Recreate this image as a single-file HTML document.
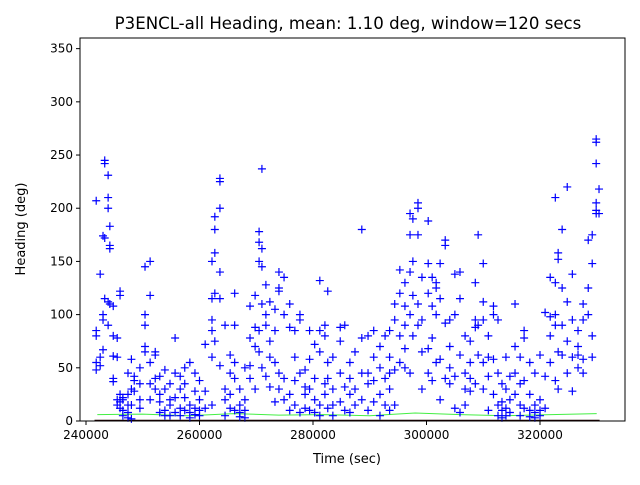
<!DOCTYPE html>
<html><head><meta charset="utf-8"><style>
html,body{margin:0;padding:0;background:#fff;}
svg text{font-family:"DejaVu Sans","Liberation Sans",sans-serif;}
</style></head><body>
<svg id="chart" width="640" height="480" viewBox="0 0 640 480" xmlns="http://www.w3.org/2000/svg">
<rect x="0" y="0" width="640" height="480" fill="#fff"/>
<text x="348" y="29" font-size="16.6" text-anchor="middle">P3ENCL-all Heading, mean: 1.10 deg, window=120 secs</text>
<g id="marks"></g>
<g id="axes"></g>
<text x="347" y="463" font-size="13" text-anchor="middle">Time (sec)</text>
<text transform="translate(25,229) rotate(-90)" font-size="13" text-anchor="middle">Heading (deg)</text>
</svg>
<script>
const times = [241.8,242.5,243,243.3,243.9,244.2,244.8,245.5,246,246.5,247.4,248,248.5,249.5,250.4,251.3,252.2,253,253.9,254.8,255.7,256.6,257.4,258.3,259.2,260,261,262.2,262.7,263.6,264.5,265.4,266.2,267.1,268,268.9,269.8,270.5,271,271.7,272.4,273.3,274,274.9,275.9,276.8,277.7,278.6,279.4,280.3,281.2,282.1,282.6,283.5,284.8,285.6,286.5,287.4,288.6,289.7,290.7,291.8,292.7,293.5,294.4,295.3,296.2,297.1,297.6,298.5,299.2,300.3,301,301.7,302.4,303.3,304.1,305,305.9,306.8,307.7,308.6,309.1,310,310.9,311.8,312.6,313.3,314,314.7,315.6,316.5,317.2,318.2,319.1,320,320.9,321.8,322.7,323.2,323.9,324.8,325.7,326.7,327.6,328.5,329.2,329.9,330.4];
const headings = [[207,85,80,55,48],[138,60,52],[174,67,95,100],[245,242,115,172],[200,210,231,112,90],[165,162,183,110],[108,80,61,40,37],[78,60,20,15],[118,122,25,18,12],[5,10,20,22],[45,8,3,15,25],[2,15,30,58],[28,38,42],[50,20,35,12],[145,100,90,70,65],[150,118,55,35,20],[62,65,40,30],[42,18,8,25],[48,10,5,30],[20,35,15,5],[78,45,22,8],[30,12,5,42],[50,22,10,35],[15,8,3,55],[45,28,12,6],[38,20,10,5],[72,28,12],[150,115,95,85,60,15],[180,192,158,120,75],[228,225,200,140,115,52],[90,30,20,5],[62,45,25,12],[120,90,55,40,10],[30,15,8,4],[50,10,3,20],[108,78,52,40],[118,88,70,30],[178,168,150,85,65],[237,162,145,110,50],[128,100,90,42],[112,75,60,32],[105,85,55,18],[140,125,122,45,30],[135,100,40,20],[88,110,25,10],[85,60,38,15],[100,95,45,8],[48,32,12,25],[85,58,30,10],[72,40,20,8],[132,85,65,15,5],[90,80,35,25],[122,55,40,12],[60,30,15,5],[88,75,45,18],[90,32,10],[55,40,25,8],[65,30,15],[180,78,45,20],[45,80,35,10],[85,60,38,18],[70,50,25,5],[80,40,15],[85,60,45,30,10],[110,95,48,15],[142,120,80,55],[130,108,90,68,50],[195,175,140,100,45],[190,150,118,80],[205,200,175,110,90],[135,95,65,30],[188,148,120,68,45],[135,108,78,38],[130,125,100,55],[148,115,58,20],[170,165,92,40],[95,70,50,35],[100,138,42,12],[140,115,62,8],[80,45,30,15],[28,40,55,75],[130,95,88,35],[175,90,62],[148,112,95,55,30],[80,60,42,10],[108,100,58,25],[95,45,15,5],[35,18,10,3],[60,30,12,5],[42,20,8],[110,70,45,25],[60,35,15,5],[85,78,38,12],[55,25,10,4],[45,15,8,3],[62,20,10,5],[102,42,12],[135,80,98,55],[210,130,100,90,38],[158,152,65,30],[180,125,90,62],[220,112,75,45],[138,95,60,28],[85,70,50,62],[110,95,58,45],[170,125,100],[175,148,80,60],[265,262,242,205,195,198],[218,195]];
const meanTimes = [242,250,258,266,274,282,290,298,306,314,322,330];
const meanValues = [6,6.5,5,7,5.5,6,5,7.5,6,5,6,7];
const xTicks = [240000,260000,280000,300000,320000];
const yTicks = [0,50,100,150,200,250,300,350];

const L=80,R=625,T=38,B=421;
const xMin=238943,xMax=334978,yMin=0,yMax=360;
const sx=v=>L+(v-xMin)/(xMax-xMin)*(R-L);
const sy=v=>B-(v-yMin)/(yMax-yMin)*(B-T);
const NS="http://www.w3.org/2000/svg";
const marks=document.getElementById('marks');
const axes=document.getElementById('axes');
function mk(tag,attrs,parent){const e=document.createElementNS(NS,tag);for(const k in attrs)e.setAttribute(k,attrs[k]);parent.appendChild(e);return e;}

const zl=mk('line',{x1:sx(241500),x2:sx(330500),y1:sy(0.5),y2:sy(0.5),stroke:'#200000','stroke-width':1.5},marks);



let d='';
meanTimes.forEach((t,i)=>{d+=(i?'L':'M')+sx(t*1000).toFixed(1)+' '+sy(meanValues[i]).toFixed(1);});
const ml=mk('path',{d:d,fill:'none',stroke:'#44ee44','stroke-width':1},marks);



times.forEach((t,i)=>{
  headings[i].forEach(h=>{
    const x=sx(t*1000),y=sy(h);
    const p=mk('path',{d:`M${x-4} ${y}H${x+4}M${x} ${y-4}V${y+4}`,stroke:'#0000ff','stroke-width':1.2,fill:'none'},marks);
    
    
  });
});

const fr=mk('rect',{x:L,y:T,width:R-L,height:B-T,fill:'none',stroke:'#000','stroke-width':1},axes);



xTicks.forEach(v=>{
  const x=sx(v);
  const tk=mk('line',{x1:x,x2:x,y1:B,y2:B+4,stroke:'#000'},axes);
  
  
  const tx=mk('text',{x:x,y:B+18,'font-size':12,'text-anchor':'middle'},axes);
  tx.textContent=v;
  
  
});
yTicks.forEach(v=>{
  const y=sy(v);
  const tk=mk('line',{x1:L-4,x2:L,y1:y,y2:y,stroke:'#000'},axes);
  
  
  const tx=mk('text',{x:L-7,y:y+4,'font-size':12,'text-anchor':'end'},axes);
  tx.textContent=v;
  
  
});
</script>
</body></html>
